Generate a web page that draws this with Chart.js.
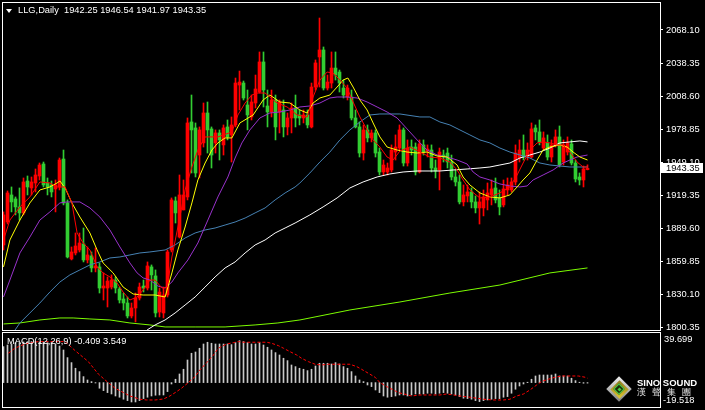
<!DOCTYPE html>
<html><head><meta charset="utf-8">
<script src="https://cdn.jsdelivr.net/npm/chart.js@4.4.1/dist/chart.umd.min.js"></script>
<style>
html,body{margin:0;padding:0;background:#000;width:705px;height:410px;overflow:hidden;}
#wrap{position:relative;width:705px;height:410px;background:#000;}
#main{position:absolute;left:0;top:0;width:705px;height:331px;}
#macd{position:absolute;left:0;top:331px;width:705px;height:79px;}
.txt{position:absolute;color:#fff;font-family:"Liberation Sans",Arial,sans-serif;font-size:9.3px;white-space:pre;line-height:1;}
</style></head><body>
<div id="wrap">
<canvas id="main" width="705" height="331"></canvas>
<canvas id="macd" width="705" height="79"></canvas>
<div style="position:absolute;left:6px;top:9px;width:0;height:0;border-left:3.5px solid transparent;border-right:3.5px solid transparent;border-top:4px solid #fff;"></div>
<div class="txt" id="hdr" style="left:18px;top:6px;"></div>
<div class="txt" id="macdLbl" style="left:7px;top:337px;"></div>
<div class="txt" id="macdMaxLbl" style="left:664px;top:335px;"></div>
<div class="txt" id="macdMinLbl" style="left:663px;top:396px;"></div>
<div style="position:absolute;left:606px;top:376px;width:26px;height:26px;">
  <div style="position:absolute;left:4px;top:4px;width:18px;height:18px;transform:rotate(45deg);background:linear-gradient(135deg,#f0f0f0,#808080);"></div>
  <div style="position:absolute;left:6.5px;top:6.5px;width:13px;height:13px;transform:rotate(45deg);background:linear-gradient(135deg,#8a7a20,#e0c830);"></div>
  <div style="position:absolute;left:9px;top:9px;width:8px;height:8px;transform:rotate(45deg);background:#1c2a08;border:0.5px solid #4c4;box-sizing:border-box;"></div>
  <div style="position:absolute;left:11.5px;top:11.5px;width:3px;height:3px;transform:rotate(45deg);background:#4c4;"></div>
</div>
<div class="txt" style="left:637px;top:378px;font-weight:bold;font-size:9.5px;">SINO SOUND</div>
<div class="txt" style="left:637px;top:388px;font-size:9px;letter-spacing:6px;color:#e8e8e8;">漢聲集團</div>
</div>
<script>
const symbolName = "LLG,Daily";
const priceTicks = [2068.10, 2038.35, 2008.60, 1978.85, 1949.10, 1919.35, 1889.60, 1859.85, 1830.10, 1800.35];
const macdMax = 39.699;
const macdMin = -19.518;
const macdLast = -0.409;
const signalLast = 3.549;

const openVals = [1874.3,1895.0,1919.4,1915.8,1908.6,1903.2,1932.0,1925.7,1930.2,1936.5,
1947.3,1930.2,1928.4,1924.8,1926.6,1951.8,1912.2,1861.7,1867.1,1869.8,
1875.2,1860.8,1864.4,1853.6,1854.5,1835.5,1835.5,1836.4,1842.7,1834.6,
1825.6,1822.0,1810.3,1817.5,1826.5,1837.3,1835.5,1854.5,1846.4,1813.9,
1813.0,1829.2,1869.8,1914.0,1881.5,1905.9,1917.6,1985.2,1979.8,1955.4,
1966.3,1993.3,1978.9,1966.3,1975.3,1964.5,1980.7,1973.5,1982.5,2018.5,
2020.3,2000.5,1989.7,2002.3,2012.2,2039.3,1999.6,1994.2,2005.0,1994.2,
1996.0,1980.7,1988.8,1997.8,1991.5,1988.8,1991.5,1980.7,2016.7,2043.8,
2050.1,2015.8,2020.3,2033.8,2030.2,2015.8,2007.7,2007.7,1988.8,1980.7,
1957.2,1978.0,1970.8,1975.3,1958.1,1940.1,1940.1,1941.9,1958.1,1961.7,
1978.0,1948.2,1962.6,1962.6,1940.1,1964.5,1959.0,1959.9,1943.7,1941.9,
1955.4,1957.2,1949.1,1935.6,1931.1,1913.1,1918.5,1922.1,1913.1,1907.7,
1907.7,1914.9,1919.4,1925.7,1916.7,1910.4,1923.9,1923.9,1931.1,1952.7,
1959.9,1953.6,1953.6,1979.8,1976.2,1961.7,1966.3,1953.6,1964.5,1971.7,
1949.1,1958.1,1965.4,1948.2,1935.6,1932.9,1942.25];
const highVals = [1904.1,1923.0,1926.6,1917.6,1925.7,1934.7,1936.5,1935.6,1942.8,1948.2,
1949.1,1934.7,1932.0,1932.9,1952.7,1959.9,1914.9,1872.5,1885.1,1885.1,
1889.6,1872.5,1868.0,1871.6,1858.1,1849.1,1845.5,1847.3,1845.5,1836.4,
1831.0,1827.4,1822.0,1831.0,1840.0,1842.7,1859.0,1856.3,1851.8,1835.5,
1836.4,1869.8,1916.7,1917.6,1937.4,1932.9,1988.8,2009.5,1984.3,1980.7,
2002.3,2003.2,1980.7,1978.0,1978.0,1982.5,1987.0,1989.7,2024.8,2031.1,
2022.1,2014.0,2009.5,2027.5,2048.3,2048.3,2014.0,2014.0,2009.5,2005.0,
2005.0,1993.3,2002.3,2009.5,1996.0,1996.0,1996.0,2020.3,2041.1,2078.9,
2052.8,2027.5,2048.3,2048.3,2032.0,2023.0,2018.5,2014.0,1996.0,1985.2,
1982.5,1982.5,1978.0,1978.0,1961.7,1950.9,1948.2,1964.5,1973.5,1982.5,
1979.8,1969.0,1969.0,1966.3,1969.0,1969.0,1964.5,1964.5,1950.9,1961.7,
1959.9,1961.7,1955.4,1941.9,1937.4,1928.4,1928.4,1925.7,1918.5,1922.1,
1923.9,1930.2,1932.9,1934.7,1923.9,1932.9,1934.7,1934.7,1964.5,1969.0,
1973.5,1966.3,1984.3,1982.5,1987.0,1976.2,1973.5,1969.0,1978.0,1981.6,
1969.0,1971.7,1969.0,1950.9,1939.2,1945.5,1946.54];
const lowVals = [1869.8,1893.2,1904.1,1901.4,1896.8,1901.4,1919.4,1919.4,1922.1,1932.9,
1926.6,1919.4,1917.6,1904.1,1923.9,1910.4,1862.6,1860.8,1865.3,1868.0,
1859.0,1858.1,1850.0,1850.0,1831.0,1824.7,1818.4,1834.6,1831.0,1822.0,
1815.7,1808.5,1808.5,1804.9,1824.7,1831.9,1833.7,1833.7,1809.4,1809.4,
1808.5,1827.4,1868.0,1894.1,1880.6,1905.9,1914.9,1939.2,1935.6,1934.7,
1962.6,1957.2,1943.7,1957.2,1950.9,1955.4,1969.0,1949.1,1980.7,1996.0,
2005.0,1978.0,1987.0,1997.8,2011.3,1998.7,1980.7,1989.7,1969.0,1975.3,
1971.7,1973.5,1975.3,1980.7,1982.5,1984.3,1979.8,1979.8,2014.0,2016.7,
2014.0,2014.0,2015.8,2023.0,2012.2,2006.8,2005.0,1987.0,1979.8,1953.6,
1950.9,1967.2,1967.2,1953.6,1937.4,1937.4,1937.4,1940.1,1950.9,1959.9,
1945.5,1945.5,1955.4,1937.4,1939.2,1955.4,1953.6,1940.1,1934.7,1923.9,
1949.1,1943.7,1932.9,1927.5,1911.3,1909.5,1913.1,1907.7,1903.2,1893.2,
1900.5,1905.9,1910.4,1912.2,1901.4,1908.6,1919.4,1922.1,1928.4,1949.1,
1950.9,1950.9,1952.7,1969.0,1964.5,1959.9,1950.9,1949.1,1962.6,1944.6,
1946.4,1955.4,1946.4,1931.1,1928.4,1926.6,1941.97];
const closeVals = [1901.4,1921.2,1913.1,1908.6,1903.2,1931.1,1926.6,1931.1,1937.4,1946.4,
1928.4,1926.6,1922.1,1928.4,1950.9,1912.2,1863.5,1868.0,1873.4,1876.1,
1860.8,1865.3,1853.6,1855.4,1835.5,1837.3,1841.8,1842.7,1835.5,1824.7,
1822.0,1810.3,1817.5,1826.5,1836.4,1835.5,1855.4,1847.3,1813.0,1831.9,
1829.2,1868.0,1914.9,1903.2,1919.4,1919.4,1984.3,1978.0,1939.2,1978.0,
1993.3,1978.0,1955.4,1975.3,1969.0,1979.8,1971.7,1982.5,2020.3,2021.2,
2006.8,1991.5,2003.2,2014.9,2039.3,2014.0,1994.2,2005.0,1980.7,2003.2,
1980.7,1988.8,1997.8,1988.8,1988.8,1991.5,1982.5,2016.7,2038.4,2050.1,
2015.8,2021.2,2033.8,2027.5,2020.3,2009.5,2015.8,1988.8,1980.7,1957.2,
1978.0,1970.8,1975.3,1957.2,1940.1,1946.4,1943.7,1959.9,1962.6,1978.0,
1948.2,1961.7,1959.9,1940.1,1965.4,1958.1,1960.8,1943.7,1941.0,1958.1,
1953.6,1949.1,1935.6,1931.1,1913.1,1919.4,1922.1,1913.1,1907.7,1913.1,
1917.6,1921.2,1924.8,1914.9,1908.6,1924.8,1928.4,1931.1,1957.2,1959.9,
1953.6,1959.9,1978.9,1976.2,1967.2,1970.8,1953.6,1964.5,1971.7,1946.4,
1964.5,1966.3,1948.2,1933.8,1932.9,1942.8,1943.35];

// moving averages: [bar index, price]
const maRed = [[0,1878.8],[1.6,1896.8],[4.1,1908.6],[6.6,1917.6],[9.1,1931.1],[11.6,1930.2],[13.4,1926.6],[15.4,1926.6],[17.1,1912.2],[18.4,1885.1],[19.9,1876.1],[21.6,1869.8],[23.4,1854.5],[24.9,1849.1],[26.6,1845.5],[28.4,1840.0],[29.9,1831.9],[31.6,1824.7],[33.4,1827.4],[34.9,1833.7],[36.6,1842.7],[37.9,1842.7],[39.6,1835.5],[40.9,1836.4],[42.1,1863.5],[43.6,1890.5],[45.4,1923.9],[47.1,1944.6],[48.6,1959.9],[50.4,1971.7],[53.6,1971.7],[57.1,1976.2],[58.6,1991.5],[60.4,2002.3],[62.1,2009.5],[63.6,2011.3],[65.4,2011.3],[66.6,2007.7],[68.4,2002.3],[70.9,1998.7],[73.4,1991.5],[75.9,1989.7],[77.4,2007.7],[79.1,2023.0],[80.9,2030.2],[82.4,2029.3],[84.1,2023.0],[85.9,2015.8],[87.4,2003.2],[89.1,1989.7],[90.9,1978.0],[92.4,1969.0],[94.1,1962.6],[95.9,1953.6],[97.4,1950.9],[99.1,1959.0],[101.6,1962.6],[104.1,1958.1],[106.6,1953.6],[109.1,1952.7],[111.6,1949.1],[113.4,1941.9],[114.9,1932.9],[116.6,1923.9],[119.1,1916.7],[121.6,1917.6],[124.1,1921.2],[126.6,1926.6],[128.4,1937.4],[129.9,1948.2],[131.6,1959.9],[133.4,1966.3],[134.9,1967.2],[136.6,1966.3],[138.4,1964.5],[139.9,1964.5],[141.6,1958.1],[143.4,1949.1],[144.9,1944.6],[146,1944.6]];
const maYellow = [[0,1854.5],[1.6,1878.8],[4.1,1896.8],[6.6,1912.2],[9.1,1923.9],[11.6,1926.6],[13.4,1930.2],[14.1,1932.0],[15.4,1925.7],[17.1,1912.2],[19.1,1899.5],[21.6,1885.1],[23.4,1869.8],[24.9,1858.1],[27.4,1849.1],[29.9,1836.4],[32.4,1830.1],[34.9,1829.2],[37.9,1829.2],[40.4,1827.4],[42.1,1849.1],[43.6,1869.8],[45.4,1890.5],[47.1,1912.2],[48.6,1932.9],[50.4,1948.2],[52.1,1959.9],[53.6,1966.3],[55.4,1970.8],[57.1,1970.8],[59.1,1984.3],[62.4,1991.5],[64.9,2005.0],[66.6,2009.5],[69.1,2003.2],[71.6,2002.3],[74.1,1996.0],[75.9,1993.3],[77.4,2002.3],[79.1,2006.8],[81.6,2009.5],[83.4,2016.7],[84.9,2023.0],[86.1,2024.8],[87.4,2016.7],[89.1,2005.0],[90.9,1996.0],[92.4,1984.3],[94.1,1971.7],[95.9,1962.6],[98.4,1959.9],[100.9,1958.1],[103.4,1957.2],[105.9,1958.1],[108.4,1954.5],[110.9,1953.6],[113.4,1946.4],[114.9,1935.6],[116.6,1928.4],[119.1,1921.2],[121.6,1917.6],[124.1,1916.7],[126.6,1919.4],[128.4,1926.6],[129.9,1932.9],[131.6,1939.2],[133.4,1950.9],[134.9,1959.9],[136.6,1962.6],[139.1,1964.5],[140.9,1962.6],[142.4,1958.1],[144.1,1953.6],[146,1950.9]];
const maPurple = [[0,1827.4],[1.6,1842.7],[4.1,1867.1],[6.6,1881.5],[9.1,1896.8],[11.6,1904.1],[14.1,1912.2],[15.9,1913.1],[19.1,1913.1],[21.6,1907.7],[24.1,1899.5],[26.6,1887.8],[29.1,1872.5],[31.6,1858.1],[33.4,1849.1],[34.9,1844.6],[36.6,1842.7],[38.6,1837.3],[40.4,1835.5],[42.1,1840.9],[43.6,1849.1],[46.1,1860.8],[48.6,1876.1],[51.1,1896.8],[53.6,1917.6],[56.1,1935.6],[57.9,1952.7],[59.6,1966.3],[61.6,1978.0],[64.1,1988.8],[66.6,1993.3],[69.1,1994.2],[71.6,1996.0],[74.1,1998.7],[76.6,1999.6],[79.1,2002.3],[81.6,2006.8],[83.4,2007.7],[85.9,2007.7],[88.4,2006.8],[90.9,2003.2],[93.4,1998.7],[95.9,1994.2],[98.4,1988.8],[100.9,1978.9],[103.4,1969.0],[105.9,1959.9],[108.4,1955.4],[110.9,1953.6],[113.4,1950.9],[115.9,1947.3],[117.4,1940.1],[119.1,1935.6],[121.6,1932.9],[124.1,1929.3],[126.6,1927.5],[129.1,1926.6],[130.9,1927.5],[132.4,1932.9],[134.9,1937.4],[137.4,1941.9],[139.9,1948.2],[141.6,1950.9],[143.4,1953.6],[146,1955.4]];
const maBlue = [[2.9,1797.7],[4.1,1804.0],[6.6,1813.0],[9.1,1822.0],[11.6,1831.9],[14.1,1840.9],[16.6,1847.3],[19.1,1851.8],[21.6,1856.3],[24.1,1859.0],[26.6,1862.6],[29.1,1863.5],[31.6,1865.3],[34.1,1867.1],[36.6,1868.0],[40.4,1869.8],[42.9,1874.3],[45.4,1880.6],[47.9,1885.1],[50.4,1887.8],[52.9,1889.6],[55.4,1892.3],[57.9,1895.0],[60.4,1898.6],[62.9,1903.2],[65.4,1907.7],[67.9,1914.9],[70.4,1921.2],[72.9,1926.6],[74.1,1930.2],[76.6,1939.2],[79.1,1949.1],[81.6,1958.1],[84.1,1969.0],[86.6,1978.0],[89.1,1985.2],[91.6,1991.5],[94.1,1992.4],[99.1,1992.4],[104.1,1989.7],[106.6,1989.7],[109.1,1985.2],[111.6,1982.5],[114.1,1978.0],[116.6,1973.5],[119.1,1969.0],[121.6,1966.3],[124.1,1961.7],[126.6,1958.1],[129.1,1955.4],[131.6,1952.7],[134.1,1948.2],[136.6,1946.4],[139.1,1945.5],[141.6,1944.6],[146,1944.6]];
const maWhite = [[35.9,1797.7],[37.9,1802.2],[40.4,1806.7],[42.9,1813.0],[45.4,1820.2],[47.9,1827.4],[50.4,1836.4],[52.9,1845.5],[55.4,1853.6],[57.9,1859.0],[60.4,1867.1],[62.9,1874.3],[65.4,1878.8],[67.9,1885.1],[70.4,1889.6],[72.9,1894.1],[76.6,1901.4],[79.9,1908.6],[83.4,1916.7],[86.6,1925.7],[89.9,1931.1],[93.4,1935.6],[96.6,1938.3],[99.9,1940.1],[103.4,1941.0],[109.1,1941.0],[112.4,1941.9],[115.9,1942.8],[119.1,1943.7],[121.6,1944.6],[124.1,1946.4],[126.6,1948.2],[129.1,1952.7],[131.6,1955.4],[134.1,1958.1],[136.6,1961.7],[139.1,1966.3],[141.6,1967.2],[144.1,1968.1],[146,1967.2]];
const maLime = [[0,1803.1],[4.1,1804.0],[9.1,1806.7],[14.1,1808.5],[17.4,1808.5],[21.6,1807.6],[26.6,1806.7],[31.6,1804.0],[36.6,1802.2],[40.4,1800.4],[47.9,1800.4],[55.4,1800.4],[62.9,1802.2],[68.6,1804.0],[74.1,1806.7],[86.6,1815.7],[99.1,1822.9],[111.6,1831.0],[124.1,1838.2],[136.6,1849.1],[146,1853.6]];

const macdHist = [28.8,30.1,30.9,32,32,32.5,32.8,32.8,32.8,32.5,
32.5,32,32,30.9,29.3,26.1,20,16,11.5,8.8,
4.8,2.1,0.8,-0.3,-4.5,-6.4,-8,-9.1,-10.7,-11.7,
-13.3,-14.4,-15.5,-15.5,-14.4,-12.8,-11.7,-10.7,-10.1,-9.9,
-9.9,-7.2,-1.1,2.7,6.9,10.7,18.1,23.5,24.5,27.5,
30.9,32.3,31.5,30.9,30.9,30.9,30.9,30.4,32,33.6,
32.8,32,30.9,30.9,32,30.1,28.3,26.1,24,22.1,
19.5,17.6,14.1,12.8,11.5,10.7,9.6,10.7,13.3,15.5,
15.5,15.5,14.9,16,14.9,12.8,11.5,8.8,5.3,2.1,
0.8,-1.9,-3.2,-5.9,-8,-10.7,-11.7,-11.2,-10.7,-9.9,
-9.9,-10.7,-9.9,-9.1,-9.1,-9.1,-8.5,-8.5,-9.1,-8.5,
-8,-8.5,-9.1,-9.9,-11.2,-12.5,-12.8,-13.3,-14.4,-15.2,
-14.4,-13.9,-13.3,-12.8,-12.8,-11.7,-11.2,-8.5,-5.3,-2.7,
-1.1,0.3,2.7,5.3,6.1,6.1,6.1,6.1,6.9,5.3,
5.3,5.3,3.5,1.6,0.3,-0.5,-0.409];
const macdSignal = [[1.2,23.5],[2.5,26.7],[3.7,28.8],[5.4,30.9],[7.0,32],[8.7,32.8],[15.4,32.8],[17.9,25.6],[21.2,16.8],[23.7,6.9],[25.4,2.1],[27.9,-4.5],[30.0,-8],[31.6,-10.7],[34.1,-13.3],[35.8,-13.9],[37.9,-13.9],[40.0,-13.1],[41.6,-10.7],[43.3,-7.2],[44.5,-4.5],[46.2,0],[47.9,4.8],[49.1,10.1],[50.8,16],[52.5,22.1],[53.7,27.5],[55.8,30.9],[57.5,32],[58.7,32.8],[59.9,32.3],[65.8,32.3],[67.0,31.5],[68.7,29.6],[70.0,27.5],[71.6,24.8],[73.3,22.1],[74.5,19.5],[76.2,16.8],[77.9,14.7],[79.5,14.1],[81.2,14.7],[86.6,14.7],[88.3,12.8],[89.5,10.7],[91.2,7.5],[92.9,4.3],[94.1,0],[95.8,-3.2],[97.5,-5.9],[98.7,-8],[100.4,-9.3],[102.0,-10.7],[104.1,-9.9],[109.1,-9.9],[110.8,-9.1],[112.5,-9.9],[114.1,-10.7],[116.6,-11.7],[118.3,-12.5],[120.0,-13.3],[122.5,-13.9],[125.0,-13.9],[126.6,-13.3],[128.3,-10.7],[130.0,-9.1],[131.6,-5.9],[133.3,-1.9],[134.5,0.8],[136.2,2.7],[137.9,4.3],[139.5,5.3],[143.7,5.3],[145.4,4.3],[146,3.549]];

// ---------- layout / style ----------
const xMin = -0.375, xMax = 164.125;
const yMin = 1797.65, yMax = 2092.44;
const bullColor = '#ff0000', bearColor = '#32cd32';
const fontFam = '"Liberation Sans", Arial, sans-serif';
const last = closeVals.length - 1;

document.getElementById('hdr').textContent = symbolName + '  ' +
  [openVals[last], highVals[last], lowVals[last], closeVals[last]].map(v => v.toFixed(2)).join(' ');
document.getElementById('macdLbl').textContent = 'MACD(12,26,9) ' + macdLast.toFixed(3) + ' ' + signalLast.toFixed(3);
document.getElementById('macdMaxLbl').textContent = macdMax.toFixed(3);
document.getElementById('macdMinLbl').textContent = macdMin.toFixed(3);

const idx = closeVals.map((_, i) => i);
const colorFor = i => closeVals[i] >= openVals[i] ? bullColor : bearColor;
const wickData = idx.map(i => ({x: i, y: [lowVals[i], highVals[i]]}));
const bodyData = idx.map(i => ({x: i, y: [openVals[i], closeVals[i]]}));
const toXY = arr => arr.map(p => ({x: p[0], y: p[1]}));

const lineDs = (data, color) => ({
  type: 'line', data: toXY(data), borderColor: color, borderWidth: 1,
  pointRadius: 0, tension: 0, fill: false, order: 1
});

const framePlugin = (rect) => ({
  id: 'frame',
  afterDraw(chart) {
    const c = chart.ctx;
    c.save(); c.strokeStyle = '#fff'; c.lineWidth = 1;
    c.strokeRect(rect[0], rect[1], rect[2], rect[3]);
    c.restore();
  }
});

const priceBox = {
  id: 'priceBox',
  afterDraw(chart) {
    const c = chart.ctx;
    const y = chart.scales.y.getPixelForValue(closeVals[last]);
    c.save();
    c.fillStyle = '#fff';
    c.fillRect(661, Math.round(y) - 5, 42, 10);
    c.fillStyle = '#000';
    c.font = '9.3px ' + fontFam;
    c.textBaseline = 'middle';
    c.fillText(closeVals[last].toFixed(2), 666, Math.round(y) + 0.5);
    c.restore();
  }
};

new Chart(document.getElementById('main'), {
  type: 'bar',
  data: {
    datasets: [
      lineDs(maRed, '#ff0000'),
      lineDs(maYellow, '#ffff00'),
      lineDs(maPurple, '#9932cc'),
      lineDs(maBlue, '#4682b4'),
      lineDs(maWhite, '#ffffff'),
      lineDs(maLime, '#7cfc00'),
      { type: 'bar', data: bodyData, backgroundColor: ctx => colorFor(ctx.dataIndex),
        barThickness: 3, maxBarThickness: 3, grouped: false, minBarLength: 1, borderWidth: 0, order: 2 },
      { type: 'bar', data: wickData, backgroundColor: ctx => colorFor(ctx.dataIndex),
        barThickness: 1, maxBarThickness: 1, grouped: false, borderWidth: 0, order: 3 }
    ]
  },
  options: {
    responsive: false, animation: false, devicePixelRatio: 1,
    layout: { padding: { left: 2, top: 3, right: 0, bottom: 1 } },
    plugins: { legend: { display: false }, tooltip: { enabled: false } },
    scales: {
      x: { type: 'linear', min: xMin, max: xMax, display: false, offset: false },
      y: {
        position: 'right', min: yMin, max: yMax,
        afterBuildTicks: s => { s.ticks = priceTicks.map(v => ({ value: v })); },
        afterFit: s => { s.width = 45; s.paddingTop = 0; s.paddingBottom = 0; },
        ticks: { color: '#fff', font: { family: fontFam, size: 9.3 }, padding: 3,
                 autoSkip: false, maxRotation: 0, callback: v => Number(v).toFixed(2) },
        grid: { display: true, drawOnChartArea: false, drawTicks: true, tickLength: 3, color: '#fff' },
        border: { display: true, color: '#fff', width: 1 }
      }
    }
  },
  plugins: [framePlugin([2.5, 2.5, 658, 328]), priceBox]
});

new Chart(document.getElementById('macd'), {
  type: 'bar',
  data: {
    datasets: [
      { type: 'line', data: toXY(macdSignal), borderColor: '#ff0000', borderWidth: 1,
        borderDash: [3, 2], pointRadius: 0, tension: 0, fill: false, order: 1 },
      { type: 'bar', data: idx.map(i => ({ x: i, y: macdHist[i] })), backgroundColor: '#c8c8c8',
        barThickness: 1, maxBarThickness: 1, grouped: false, borderWidth: 0, order: 2 }
    ]
  },
  options: {
    responsive: false, animation: false, devicePixelRatio: 1,
    layout: { padding: { left: 2, top: 2, right: 45, bottom: 3 } },
    plugins: { legend: { display: false }, tooltip: { enabled: false } },
    scales: {
      x: { type: 'linear', min: xMin, max: xMax, display: false, offset: false },
      y: { min: macdMin, max: macdMax, display: false }
    }
  },
  plugins: [framePlugin([2.5, 1.5, 658, 75])]
});
</script>
</body></html>
